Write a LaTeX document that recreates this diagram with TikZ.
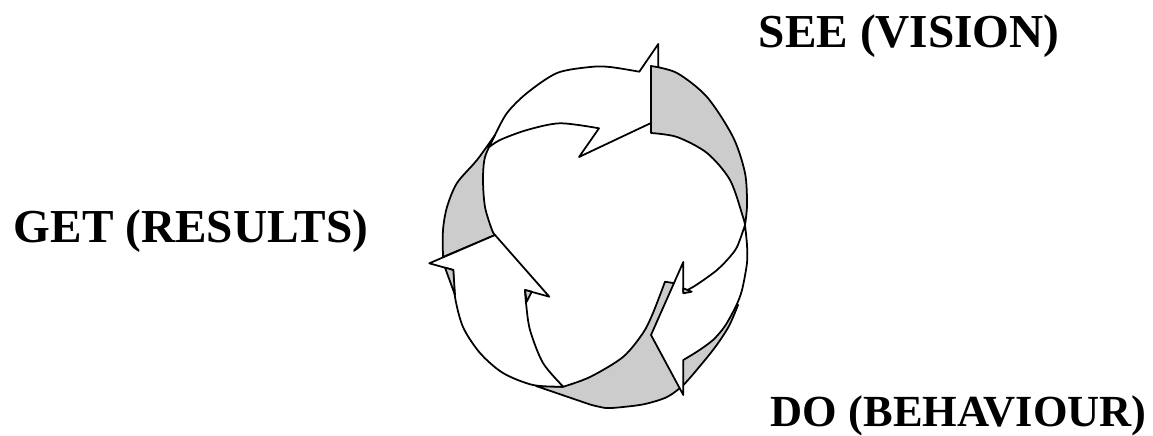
\documentclass[tikz,border=0pt]{standalone}
\usepackage{fontspec}
\setmainfont{Liberation Serif}
\begin{document}
\begin{tikzpicture}[x=0.02cm, y=-0.02cm, line width=1pt, line join=round,
    back/.style={fill=gray!40, draw=black},
    front/.style={fill=white, draw=black},
    stagetext/.style={font=\bfseries, anchor=base west, inner sep=0pt}]
    \useasboundingbox (0,0) rectangle (1153,436);

    % bottom band (gray back)
    \filldraw[back] (536,386) -- (590,404.5)
        -- plot[smooth] coordinates {(590,404.5) (606,408) (623,407) (645,404) (667,397) (683.3,385) (700,366) (716,346) (729,326) (738,305)}
        -- (690,298) -- (673,283) -- (665,281.7)
        -- plot[smooth] coordinates {(665,281.7) (653,313) (643,333) (623,357) (590,377) (563.3,386.7)} -- cycle;

    % right arrow, front face
    \filldraw[front] (745,225)
        -- plot[smooth] coordinates {(745,225) (747,245) (747,263) (742,290) (736,306) (725,326) (713,340) (698,351) (683.3,360)}
        -- (683.3,395) -- (651,335) -- (683.3,262) -- (683.3,292)
        -- plot[smooth] coordinates {(683.3,292) (693,287) (705,279) (717,270) (728,259) (737,247) (745,225)} -- cycle;

    % top arrow
    \filldraw[front] (495,135)
        -- plot[smooth] coordinates {(495,135) (507,113) (527,93) (557,73) (590,67) (610,67) (639.3,71.7)}
        -- (658.3,44) -- (658.3,66) -- (668,100) -- (651,123) -- (579,157) -- (599,128.3)
        -- plot[smooth] coordinates {(599,128.3) (560,123.3) (527,130) (500,140) (488,148)} -- cycle;

    % right arrow, gray back
    \filldraw[back] (651,66)
        -- plot[smooth] coordinates {(651,66) (677,73) (707,97) (733,137) (745,173) (747,205) (745,225)}
        -- plot[smooth] coordinates {(745,225) (743,217) (730,180) (707,153) (677,137) (651,133)} -- cycle;

    % left band (gray back)
    \filldraw[back] (495,135)
        -- plot[smooth] coordinates {(495,135) (477,160) (457,183) (447,207) (443,230) (443,257)}
        -- (495,235)
        -- plot[smooth] coordinates {(495,235) (492,230) (485,207) (483,180) (485,157) (495,135)} -- cycle;

    % left arrow
    \filldraw[front] (495,235) -- (429.3,263.3) -- (453.3,270)
        -- plot[smooth] coordinates {(453.3,270) (455,297) (463,327) (480,353) (503,373) (533,385) (563.3,386.7)}
        -- plot[smooth] coordinates {(563.3,386.7) (543,363) (530,330) (526,303) (525,290)}
        -- (549.3,296.7) -- cycle;

    % small gray slivers
    \filldraw[back] (445,267.6) -- (453.3,270) -- (455,295) -- cycle;
    \filldraw[back] (525,290) -- (531.7,291.7) -- (526.7,301.7) -- cycle;
    \filldraw[back] (683.3,288.3) -- (691.7,291.7) -- (683.3,293.3) -- cycle;

    % labels
    \node[stagetext, font=\fontsize{26.9}{30}\selectfont\bfseries] (see) at (758,48) {SEE (VISION)};
    \node[stagetext, font=\fontsize{26.9}{30}\selectfont\bfseries] (get) at (13,242) {GET (RESULTS)};
    \node[stagetext, font=\fontsize{25.3}{28}\selectfont\bfseries] (do) at (770,426) {DO (BEHAVIOUR)};
\end{tikzpicture}
\end{document}
